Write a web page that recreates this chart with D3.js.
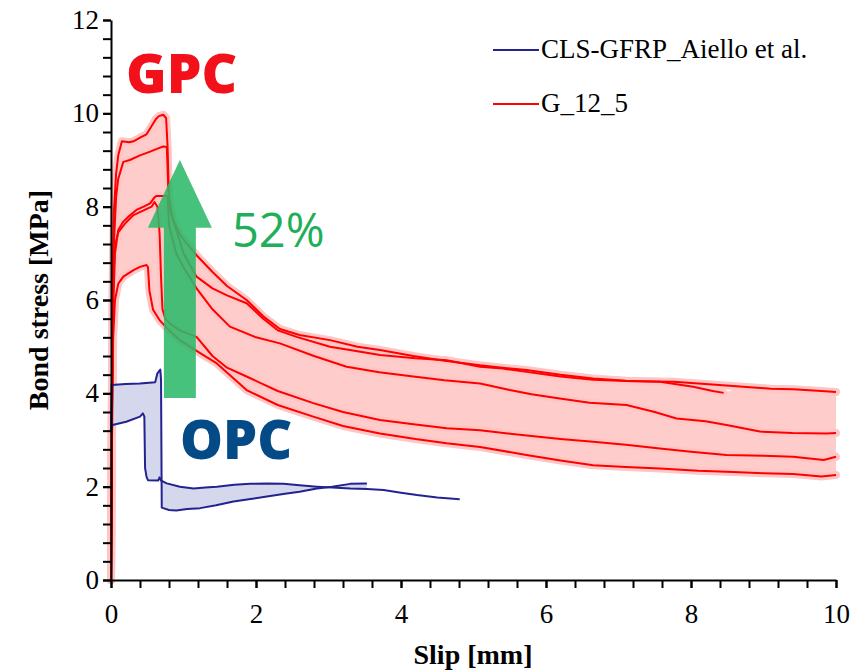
<!DOCTYPE html>
<html><head><meta charset="utf-8">
<script src="https://cdn.jsdelivr.net/npm/d3@7"></script>
<style>body{margin:0;background:#fff}</style>
</head><body>
<svg id="chart" width="856" height="671"></svg>
<script>
// ---------- DATA ----------
const xTickLabels = [0, 2, 4, 6, 8, 10];
const yTickLabels = [0, 2, 4, 6, 8, 10, 12];
const minorStep = 0.4;
const legendLabels = ["CLS-GFRP_Aiello et al.", "G_12_5"];

// G_12_5 specimens: [slip mm, bond stress MPa]
const g1 = [[0,0],[0.01,3.5],[0.02,6.2],[0.04,7.9],[0.07,8.7],[0.1,9.1],[0.15,9.4],[0.25,9.38],[0.31,9.4],[0.4,9.48],[0.49,9.55],[0.55,9.7],[0.62,9.88],[0.66,9.94],[0.72,9.97],[0.76,9.9],[0.78,9.3],[0.8,8.2],[0.85,7.75],[0.95,7.4],[1.05,7.2],[1.18,6.96],[1.4,6.6],[1.6,6.3],[1.87,6.0],[2.1,5.65],[2.33,5.38],[2.6,5.25],[3.02,5.14],[3.4,5.0],[3.71,4.93],[4.17,4.8],[4.6,4.7],[5.09,4.6],[5.4,4.55],[5.73,4.5],[6.2,4.4],[6.65,4.32],[7.1,4.27],[7.57,4.25],[8.03,4.14],[8.3,4.05],[8.45,4.01]];
const g2 = [[0,0],[0.01,3],[0.02,5.5],[0.04,7.2],[0.07,8.2],[0.1,8.6],[0.17,8.96],[0.26,9.0],[0.4,9.1],[0.54,9.18],[0.65,9.25],[0.72,9.29],[0.77,9.28],[0.79,8.4],[0.82,7.9],[0.9,7.5],[1.0,7.0],[1.18,6.5],[1.4,6.25],[1.6,6.1],[1.87,5.93],[2.1,5.6],[2.3,5.35],[2.56,5.21],[3.02,5.0],[3.4,4.9],[3.71,4.82],[4.2,4.75],[4.63,4.71],[5.09,4.57],[5.4,4.53],[5.73,4.46],[6.2,4.36],[6.65,4.29],[7.2,4.26],[7.76,4.25],[8.2,4.2],[8.72,4.14],[9.1,4.1],[9.41,4.09],[9.8,4.05],[10,4.03]];
const g3 = [[0,0],[0.01,3.2],[0.03,5.8],[0.055,7.0],[0.1,7.5],[0.17,7.68],[0.25,7.8],[0.35,7.93],[0.45,8.0],[0.54,8.07],[0.6,8.2],[0.63,8.23],[0.78,8.23],[0.8,7.6],[0.9,7.0],[1.0,6.7],[1.18,6.25],[1.4,5.8],[1.64,5.43],[2.0,5.2],[2.33,5.07],[2.8,4.8],[3.25,4.57],[3.7,4.45],[4.17,4.36],[4.6,4.28],[5.09,4.21],[5.5,4.07],[5.8,3.98],[6.19,3.89],[6.6,3.8],[7.11,3.75],[7.5,3.6],[7.8,3.46],[8.2,3.4],[8.49,3.32],[8.95,3.18],[9.4,3.15],[9.87,3.14],[10,3.15]];
const g4 = [[0,0],[0.01,3.0],[0.03,6.5],[0.06,7.2],[0.1,7.45],[0.2,7.65],[0.31,7.82],[0.45,7.92],[0.56,8.0],[0.6,8.1],[0.64,8.0],[0.67,7.43],[0.69,6.5],[0.71,5.8],[0.75,5.6],[0.81,5.5],[0.95,5.35],[1.18,5.21],[1.4,4.8],[1.6,4.55],[1.87,4.36],[2.3,4.05],[2.79,3.79],[3.2,3.6],[3.71,3.43],[4.2,3.33],[4.63,3.25],[5.09,3.21],[5.7,3.1],[6.2,3.02],[6.65,2.96],[7.1,2.9],[7.57,2.82],[8.0,2.75],[8.49,2.68],[9.0,2.66],[9.41,2.64],[9.83,2.57],[10,2.64]];
const g5 = [[0,0],[0.01,2.5],[0.03,5.2],[0.055,6.0],[0.1,6.35],[0.17,6.5],[0.31,6.64],[0.4,6.71],[0.49,6.75],[0.51,6.7],[0.53,6.2],[0.58,5.79],[0.67,5.57],[0.8,5.35],[0.95,5.14],[1.23,4.86],[1.46,4.64],[1.87,4.07],[2.3,3.75],[2.79,3.5],[3.2,3.3],[3.71,3.14],[4.2,3.02],[4.63,2.93],[5.09,2.85],[5.73,2.68],[6.2,2.56],[6.65,2.46],[7.1,2.42],[7.57,2.39],[8.1,2.34],[8.49,2.32],[9.0,2.29],[9.41,2.27],[9.8,2.22],[10,2.25]];

// CLS-GFRP (Aiello et al.) curves
const bA = [[0,3.2],[0.01,4.18],[0.2,4.2],[0.4,4.21],[0.61,4.24],[0.64,4.43],[0.68,4.51],[0.69,4.3],[0.7,1.55],[0.72,1.54],[0.8,1.5],[0.9,1.49],[1.05,1.52],[1.23,1.54],[1.45,1.6],[1.69,1.68],[1.9,1.73],[2.15,1.79],[2.4,1.85],[2.6,1.89],[2.84,1.96],[3.05,2.0],[3.3,2.06],[3.53,2.07]];
const bB = [[0,3.2],[0.02,3.32],[0.21,3.39],[0.4,3.5],[0.44,3.57],[0.46,3.5],[0.47,2.4],[0.49,2.21],[0.51,2.14],[0.65,2.13],[0.67,2.2],[0.69,2.13],[0.72,2.11],[0.77,2.07],[0.95,2.0],[1.14,1.96],[1.3,1.98],[1.46,2.0],[1.7,2.04],[1.92,2.06],[2.15,2.07],[2.38,2.06],[2.6,2.03],[2.84,2.0],[3.05,1.98],[3.3,1.96],[3.53,1.95],[3.76,1.93],[4.0,1.87],[4.22,1.82],[4.5,1.77],[4.81,1.73]];

// annotation arrow (in data units): from stress 3.9 up to 9
const arrowSlip = 0.95, arrowFrom = 3.9, arrowHeadBase = 7.55, arrowTip = 9.0;

// ---------- CHART ----------
const svg = d3.select("#chart");
const x = d3.scaleLinear().domain([0, 10]).range([111, 836]);
const y = d3.scaleLinear().domain([0, 12]).range([580, 20]);
const line = d3.line().x(d => x(d[0])).y(d => y(d[1]));

const red = "#ff0000", pink = "#ffcccc", navy = "#232390", lav = "#d5d7ec";

// GPC band: upper envelope (g1, then g2 tail) + lower (g5) reversed
const lastG1 = g1[g1.length - 1][0];
const bandTop = g1.concat(g2.filter(d => d[0] > lastG1));
const bandPoly = bandTop.concat(g5.slice().reverse());
svg.append("path").attr("d", line(bandPoly) + "Z").attr("fill", pink).attr("stroke", "none");

const gpc = [g1, g2, g3, g4, g5];
svg.selectAll(".halo").data(gpc).join("path").attr("class", "halo")
  .attr("d", line).attr("fill", "none").attr("stroke", "#ffc6c6")
  .attr("stroke-width", 8).attr("stroke-linejoin", "round").attr("stroke-linecap", "round");

// OPC band
const lastA = bA[bA.length - 1][0];
const blueBand = bA.concat(bB.filter(d => d[0] <= lastA).reverse());
svg.append("path").attr("d", line(blueBand) + "Z").attr("fill", lav).attr("stroke", "none");

svg.selectAll(".gl").data(gpc).join("path").attr("class", "gl")
  .attr("d", line).attr("fill", "none").attr("stroke", red).attr("stroke-width", 2).attr("stroke-linejoin", "round");

svg.selectAll(".bl").data([bA, bB]).join("path").attr("class", "bl")
  .attr("d", line).attr("fill", "none").attr("stroke", navy).attr("stroke-width", 2).attr("stroke-linejoin", "round");

// axes
const nMinorY = Math.round(12 / minorStep), nMinorX = Math.round(10 / minorStep);
const minorY = d3.range(nMinorY + 1).map(i => i * minorStep);
const minorX = d3.range(nMinorX + 1).map(i => i * minorStep);
const fontSerif = "'Liberation Serif','Times New Roman',serif";

const gyMinor = svg.append("g").attr("transform", `translate(${x(0)},0)`)
  .call(d3.axisLeft(y).tickValues(minorY).tickSize(8).tickFormat("").tickSizeOuter(0));
gyMinor.select(".domain").remove();
const gxMinor = svg.append("g").attr("transform", `translate(0,${y(0)})`)
  .call(d3.axisBottom(x).tickValues(minorX).tickSize(8).tickFormat("").tickSizeOuter(0));
gxMinor.select(".domain").remove();

const gy = svg.append("g").attr("transform", `translate(${x(0)},0)`)
  .call(d3.axisLeft(y).tickValues(yTickLabels).tickSize(8).tickPadding(4).tickSizeOuter(0).tickFormat(d3.format("d")));
const gx = svg.append("g").attr("transform", `translate(0,${y(0)})`)
  .call(d3.axisBottom(x).tickValues(xTickLabels).tickSize(8).tickPadding(16).tickSizeOuter(0).tickFormat(d3.format("d")));
[gy, gx, gyMinor, gxMinor].forEach(g => {
  g.selectAll("line").attr("stroke", "#000").attr("stroke-width", 2);
  g.selectAll(".domain").attr("stroke", "#000").attr("stroke-width", 2);
  g.selectAll("text").attr("font-family", fontSerif).attr("font-size", 27).attr("fill", "#000");
});

svg.append("text").attr("x", 473).attr("y", 664).attr("text-anchor", "middle")
  .attr("font-family", fontSerif).attr("font-weight", "bold").attr("font-size", 28).text("Slip [mm]");
svg.append("text").attr("transform", "translate(48,300) rotate(-90)").attr("text-anchor", "middle")
  .attr("font-family", fontSerif).attr("font-weight", "bold").attr("font-size", 28).text("Bond stress [MPa]");

// legend
const legColors = [navy, red];
const leg = svg.append("g");
legendLabels.forEach((t, i) => {
  const ly = 50 + i * 54;
  leg.append("line").attr("x1", 493).attr("x2", 539).attr("y1", ly).attr("y2", ly)
    .attr("stroke", legColors[i]).attr("stroke-width", 2);
  leg.append("text").attr("x", 541).attr("y", ly + 8).attr("font-family", fontSerif)
    .attr("font-size", 27).attr("fill", "#000").text(t);
});

// arrow
const ax = x(arrowSlip), shaftHalf = 16, headHalf = 32;
const arrowPts = [[ax - shaftHalf, y(arrowFrom)], [ax - shaftHalf, y(arrowHeadBase)], [ax - headHalf, y(arrowHeadBase)],
  [ax, y(arrowTip)], [ax + headHalf, y(arrowHeadBase)], [ax + shaftHalf, y(arrowHeadBase)], [ax + shaftHalf, y(arrowFrom)]];
svg.append("path").attr("d", d3.line()(arrowPts) + "Z").attr("fill", "#2dba6b").attr("opacity", 0.88);

// annotations
const sans = "'Open Sans','Noto Sans',sans-serif";
svg.append("text").attr("x", 126).attr("y", 93).attr("font-family", sans).attr("font-weight", 800)
  .attr("font-size", 55).attr("fill", "#f2101a").text("GPC");
svg.append("text").attr("x", 180).attr("y", 459).attr("font-family", sans).attr("font-weight", 800)
  .attr("font-size", 54).attr("fill", "#034a87").text("OPC");
svg.append("text").attr("x", 232).attr("y", 247).attr("font-family", sans)
  .attr("font-size", 47).attr("fill", "#1eaf5a").text("52%");
</script>
</body></html>
